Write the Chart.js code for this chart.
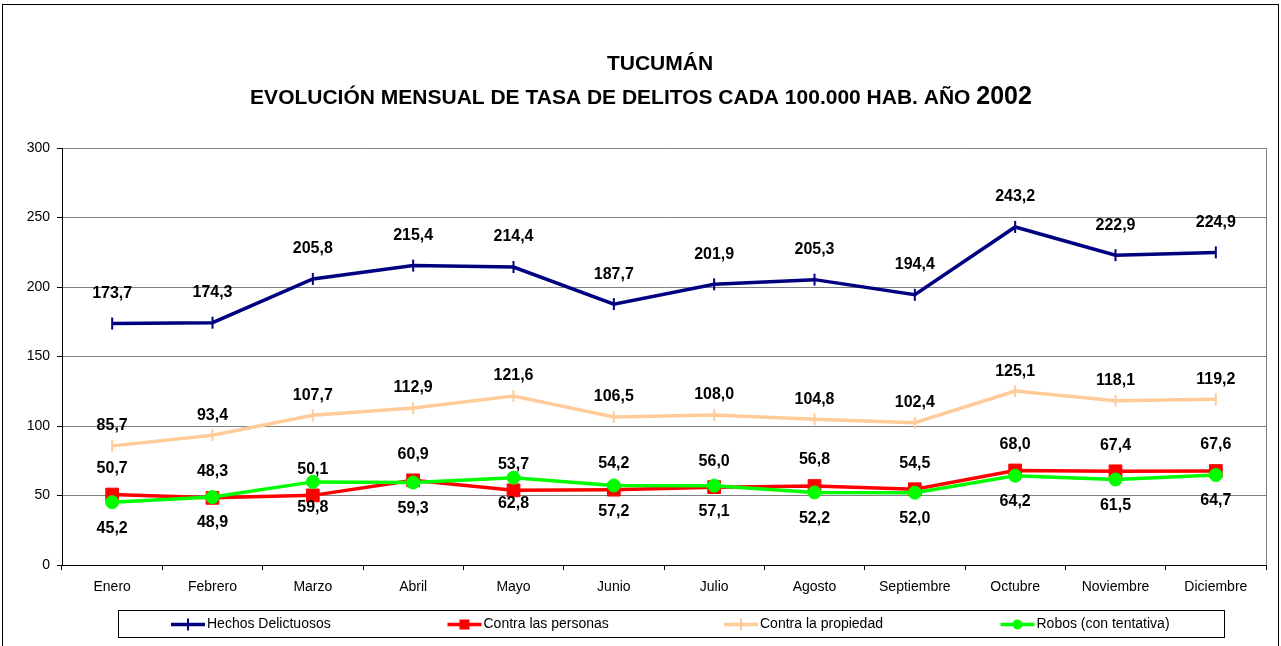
<!DOCTYPE html>
<html lang="es">
<head>
<meta charset="utf-8">
<title>Tucumán - tasa de delitos 2002</title>
<script src="https://cdn.jsdelivr.net/npm/chart.js@4.4.1/dist/chart.umd.min.js"></script>
<style>
  html, body { margin: 0; padding: 0; background: #ffffff; }
  #wrap { width: 1281px; height: 646px; }
</style>
</head>
<body>
<div id="wrap"><canvas id="chart" width="1281" height="646"></canvas></div>
<script>
// ----------------- Datos -----------------
const meses = ['Enero', 'Febrero', 'Marzo', 'Abril', 'Mayo', 'Junio', 'Julio', 'Agosto', 'Septiembre', 'Octubre', 'Noviembre', 'Diciembre'];
const hechosDelictuosos = [173.7, 174.3, 205.8, 215.4, 214.4, 187.7, 201.9, 205.3, 194.4, 243.2, 222.9, 224.9];
const contraPersonas = [50.7, 48.3, 50.1, 60.9, 53.7, 54.2, 56.0, 56.8, 54.5, 68.0, 67.4, 67.6];
const contraPropiedad = [85.7, 93.4, 107.7, 112.9, 121.6, 106.5, 108.0, 104.8, 102.4, 125.1, 118.1, 119.2];
const robos = [45.2, 48.9, 59.8, 59.3, 62.8, 57.2, 57.1, 52.2, 52.0, 64.2, 61.5, 64.7];
const yTicks = [0, 50, 100, 150, 200, 250, 300];

const titulo = 'TUCUMÁN';
const subtitulo = 'EVOLUCIÓN MENSUAL DE TASA DE DELITOS CADA 100.000 HAB. AÑO ';
const anio = '2002';

const FONT = 'Arial, "Liberation Sans", sans-serif';

// ----------------- Series -----------------
const series = [
  { label: 'Hechos Delictuosos', data: hechosDelictuosos, color: '#000080', style: 'line', radius: 6, order: 3, labelDy: -30 },
  { label: 'Contra las personas', data: contraPersonas, color: '#ff0000', style: 'rect', radius: 9, order: 1, labelDy: -26 },
  { label: 'Contra la propiedad', data: contraPropiedad, color: '#ffcc99', style: 'line', radius: 6, order: 2, labelDy: -20 },
  { label: 'Robos (con tentativa)', data: robos, color: '#00ff00', style: 'circle', radius: 6.5, order: 0, labelDy: 26 }
];

const fmt = v => v.toFixed(1).replace('.', ',');

// ----------------- Plugin: marco, títulos, etiquetas y leyenda -----------------
const decor = {
  id: 'decor',
  beforeDraw(chart) {
    const ctx = chart.ctx;
    ctx.save();
    ctx.fillStyle = '#ffffff';
    ctx.fillRect(0, 0, chart.width, chart.height);
    ctx.restore();
  },
  afterDatasetsDraw(chart) {
    const ctx = chart.ctx;
    ctx.save();
    ctx.font = 'bold 16px ' + FONT;
    ctx.fillStyle = '#000000';
    ctx.textAlign = 'center';
    ctx.textBaseline = 'middle';
    chart.data.datasets.forEach((ds, i) => {
      const meta = chart.getDatasetMeta(i);
      meta.data.forEach((pt, j) => {
        ctx.fillText(fmt(ds.data[j]), pt.x, pt.y + ds.labelDy);
      });
    });
    ctx.restore();
  },
  afterDraw(chart) {
    const ctx = chart.ctx;
    const area = chart.chartArea;
    ctx.save();

    // borde derecho del área de trazado
    ctx.strokeStyle = '#808080';
    ctx.lineWidth = 1;
    ctx.beginPath();
    ctx.moveTo(Math.round(area.right) + 0.5, area.top);
    ctx.lineTo(Math.round(area.right) + 0.5, area.bottom);
    ctx.stroke();

    // marco exterior
    ctx.strokeStyle = '#000000';
    ctx.strokeRect(2.5, 4.5, 1276, 700);

    // títulos
    ctx.fillStyle = '#000000';
    ctx.textBaseline = 'alphabetic';
    ctx.textAlign = 'center';
    ctx.font = 'bold 21px ' + FONT;
    ctx.fillText(titulo, 660, 70);

    const f1 = 'bold 21px ' + FONT, f2 = 'bold 25px ' + FONT;
    ctx.font = f1;
    const w1 = ctx.measureText(subtitulo).width;
    ctx.font = f2;
    const w2 = ctx.measureText(anio).width;
    let x = 641 - (w1 + w2) / 2;
    ctx.textAlign = 'left';
    ctx.font = f1;
    ctx.fillText(subtitulo, x, 104);
    ctx.font = f2;
    ctx.fillText(anio, x + w1, 104);

    // leyenda
    const lx = 118, ly = 610, lw = 1106, lh = 27;
    ctx.lineWidth = 1;
    ctx.strokeStyle = '#000000';
    ctx.strokeRect(lx + 0.5, ly + 0.5, lw, lh);
    const col = lw / 4;
    const cy = ly + lh / 2 + 1;
    series.forEach((s, i) => {
      const x0 = lx + i * col + 53;
      ctx.strokeStyle = s.color;
      ctx.fillStyle = s.color;
      ctx.lineWidth = 3.5;
      ctx.beginPath();
      ctx.moveTo(x0, cy);
      ctx.lineTo(x0 + 34, cy);
      ctx.stroke();
      const mx = x0 + 17;
      if (s.style === 'line') {
        ctx.lineWidth = 2;
        ctx.beginPath();
        ctx.moveTo(mx, cy - 6);
        ctx.lineTo(mx, cy + 6);
        ctx.stroke();
      } else if (s.style === 'rect') {
        ctx.fillRect(mx - 5, cy - 5, 10, 10);
      } else {
        ctx.beginPath();
        ctx.arc(mx, cy, 5, 0, Math.PI * 2);
        ctx.fill();
      }
      ctx.fillStyle = '#000000';
      ctx.font = '14px ' + FONT;
      ctx.textAlign = 'left';
      ctx.textBaseline = 'middle';
      ctx.fillText(s.label, x0 + 36, cy);
    });
    ctx.restore();
  }
};

// ----------------- Gráfico -----------------
const chart = new Chart(document.getElementById('chart').getContext('2d'), {
  type: 'line',
  data: {
    labels: meses,
    datasets: series.map(s => ({
      label: s.label,
      data: s.data,
      borderColor: s.color,
      backgroundColor: s.color,
      pointBackgroundColor: s.color,
      pointBorderColor: s.color,
      borderWidth: 3.5,
      pointStyle: s.style,
      pointRotation: s.style === 'line' ? 90 : 0,
      pointRadius: s.radius,
      pointBorderWidth: s.style === 'line' ? 2 : 1,
      tension: 0,
      fill: false,
      order: s.order,
      labelDy: s.labelDy
    }))
  },
  options: {
    responsive: false,
    animation: false,
    events: [],
    layout: { padding: { top: 148, right: 15, bottom: 0, left: 0 } },
    plugins: {
      legend: { display: false },
      title: { display: false },
      tooltip: { enabled: false }
    },
    scales: {
      x: {
        offset: true,
        afterFit(scale) { scale.height = 81; },
        grid: {
          offset: true,
          drawOnChartArea: false,
          drawTicks: true,
          tickLength: 5,
          tickColor: '#000000'
        },
        border: { color: '#000000', width: 1 },
        ticks: {
          color: '#000000',
          font: { family: FONT, size: 14 },
          padding: 9,
          maxRotation: 0,
          autoSkip: false
        }
      },
      y: {
        min: 0,
        max: 300,
        afterFit(scale) { scale.width = 62; },
        afterBuildTicks(scale) { scale.ticks = yTicks.map(v => ({ value: v })); },
        grid: {
          color: '#808080',
          lineWidth: 1,
          drawTicks: true,
          tickLength: 5,
          tickColor: '#000000'
        },
        border: { color: '#000000', width: 1 },
        ticks: {
          color: '#000000',
          font: { family: FONT, size: 14 },
          padding: 7
        }
      }
    }
  },
  plugins: [decor]
});
</script>
</body>
</html>
